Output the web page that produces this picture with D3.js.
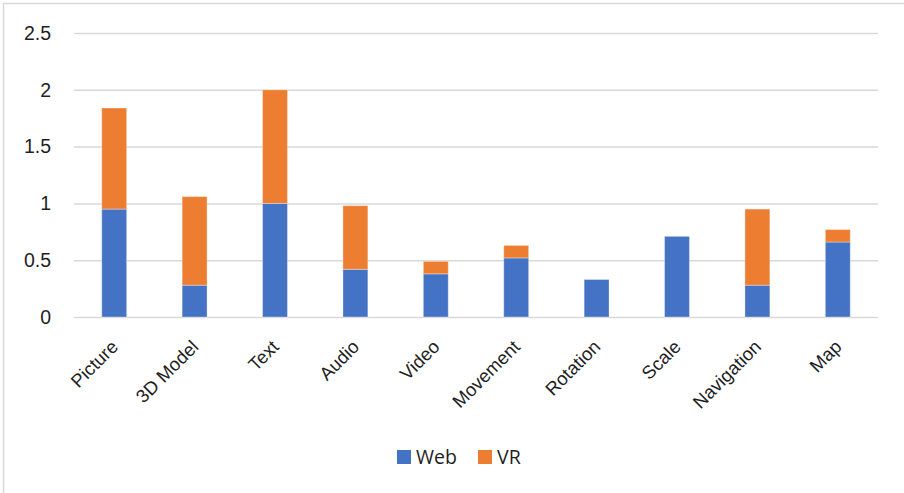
<!DOCTYPE html>
<html>
<head>
<meta charset="utf-8">
<script src="https://cdn.jsdelivr.net/npm/d3@7"></script>
<style>
  html, body { margin: 0; padding: 0; background: #fff; }
  svg { display: block; font-family: "Open Sans", Lato, sans-serif; }
</style>
</head>
<body>
<svg id="chart" width="904" height="493"></svg>
<script>
// Interaction types and how often each was used, split by platform
const categories = ["Picture", "3D Model", "Text", "Audio", "Video", "Movement", "Rotation", "Scale", "Navigation", "Map"];
const webValues = [0.95, 0.28, 1.0, 0.42, 0.38, 0.52, 0.33, 0.71, 0.28, 0.66];
const vrValues  = [0.89, 0.78, 1.0, 0.56, 0.11, 0.11, 0.0, 0.0, 0.67, 0.11];
const seriesNames = ["Web", "VR"];
const seriesColors = ["#4472C4", "#ED7D31"];
const yTicks = [0, 0.5, 1, 1.5, 2, 2.5];

const svg = d3.select("#chart");
const textColor = "#1f1f1f";

// Outer chart frame
svg.append("rect")
  .attr("x", 3.5).attr("y", 3.5)
  .attr("width", 920).attr("height", 520)
  .attr("fill", "none").attr("stroke", "#d9d9d9").attr("stroke-width", 1.5);

const plot = { left: 74, right: 878, top: 33, bottom: 317 };

const x = d3.scaleBand()
  .domain(categories)
  .range([plot.left, plot.right])
  .paddingInner(0.69)
  .paddingOuter(0.345);

const y = d3.scaleLinear()
  .domain([0, 2.5])
  .range([plot.bottom, plot.top]);

// Horizontal gridlines and value labels
const yAxis = d3.axisLeft(y)
  .tickValues(yTicks)
  .tickSize(-(plot.right - plot.left))
  .tickPadding(23)
  .tickFormat(d => String(d));

const gy = svg.append("g")
  .attr("transform", `translate(${plot.left},0)`)
  .call(yAxis);
gy.select(".domain").remove();
gy.selectAll(".tick line").attr("stroke", "#d9d9d9").attr("stroke-width", 1.5);
gy.selectAll(".tick text")
  .attr("fill", textColor)
  .style("font-size", "19.5px");

// Stacked bars
const rows = categories.map((c, i) => ({ category: c, Web: webValues[i], VR: vrValues[i] }));
const stacked = d3.stack().keys(seriesNames)(rows);

svg.append("g")
  .selectAll("g")
  .data(stacked)
  .join("g")
  .attr("fill", (d, i) => seriesColors[i])
  .selectAll("rect")
  .data(d => d.filter(s => s[1] - s[0] > 0))
  .join("rect")
  .attr("x", d => x(d.data.category))
  .attr("width", x.bandwidth())
  .attr("y", d => y(d[1]))
  .attr("height", d => y(d[0]) - y(d[1]))
  .attr("stroke", "rgba(255,255,255,0.35)")
  .attr("stroke-width", 1);

// Category labels, tilted
const xAxis = d3.axisBottom(x).tickSize(0).tickPadding(0);
const gx = svg.append("g")
  .attr("transform", `translate(0,${plot.bottom})`)
  .call(xAxis);
gx.select(".domain").remove();
gx.selectAll(".tick text")
  .attr("fill", textColor)
  .style("font-size", "18.5px")
  .attr("text-anchor", "end")
  .attr("dy", null)
  .attr("y", 0)
  .attr("transform", "translate(5,31) rotate(-45)");

// Legend
const legend = svg.append("g").attr("transform", "translate(397,450)");
const legendX = [0, 81];
seriesNames.forEach((name, i) => {
  const g = legend.append("g").attr("transform", `translate(${legendX[i]},0)`);
  g.append("rect").attr("width", 14).attr("height", 14).attr("fill", seriesColors[i]);
  g.append("text")
    .attr("x", 19).attr("y", 7).attr("dy", "0.35em")
    .attr("fill", textColor)
    .style("font-size", "19.5px")
    .text(name);
});
</script>
</body>
</html>
